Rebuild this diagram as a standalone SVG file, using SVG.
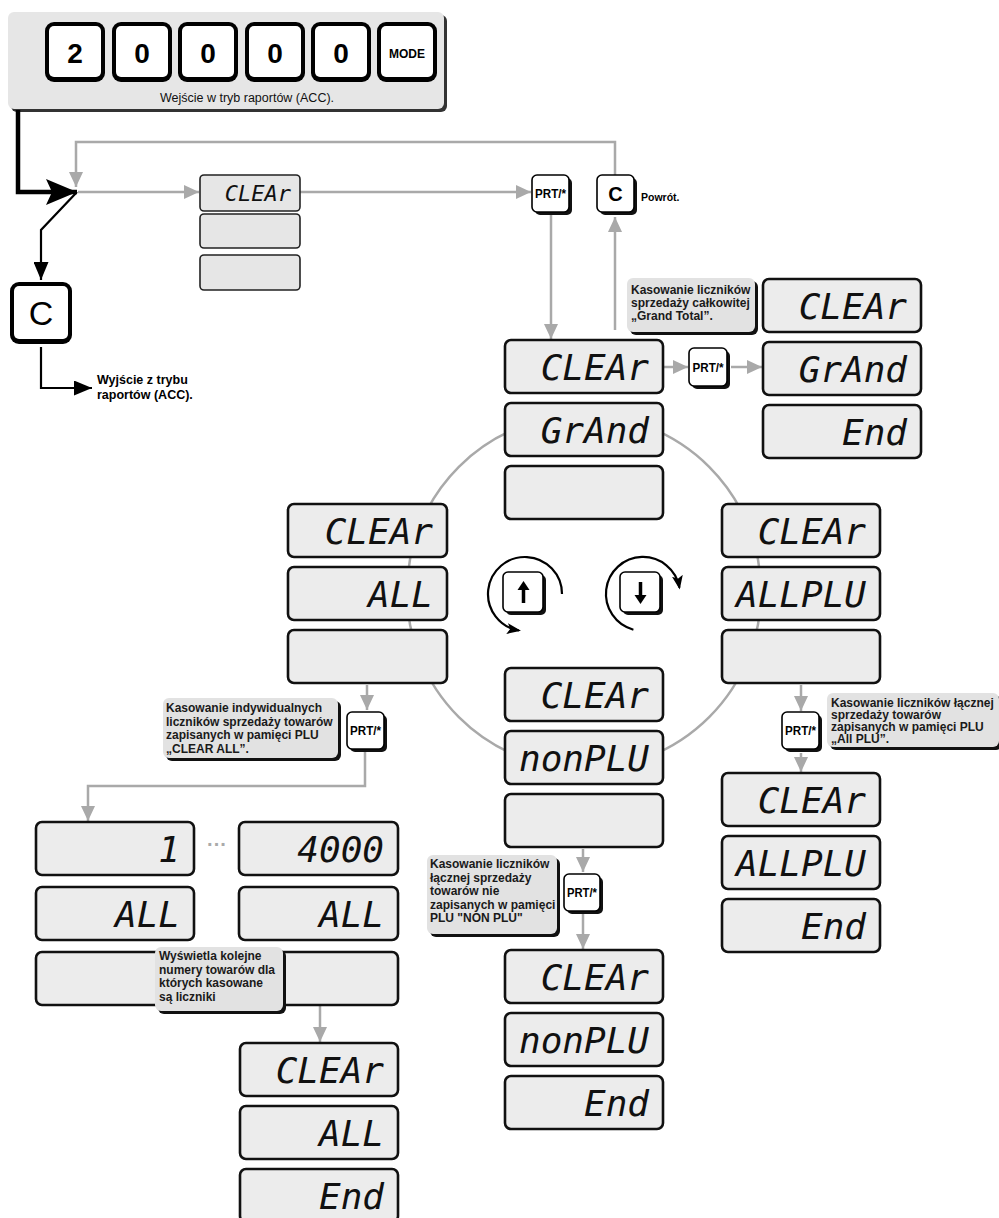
<svg xmlns="http://www.w3.org/2000/svg" width="999" height="1218" viewBox="0 0 999 1218">
<defs>
<style>
.disp{fill:#ececec;stroke:#111;stroke-width:2.6}
.sdisp{fill:#e6e6e6;stroke:#222;stroke-width:1.6}
.seg{font-family:"DejaVu Sans Mono",monospace;font-style:oblique;font-size:36px;text-anchor:end;fill:#111}
.segs{font-family:"DejaVu Sans Mono",monospace;font-style:oblique;font-size:22px;text-anchor:end;fill:#111}
.note{fill:#e2e2e2}
.shd{fill:#111}
.nt{font-family:"Liberation Sans",Arial,sans-serif;font-weight:bold;font-size:12px;fill:#1a1a1a}
.gl{stroke:#a9a9a9;stroke-width:2.5;fill:none}
.bl{stroke:#000;stroke-width:2.2;fill:none}
.kout{fill:#000}
.kin{fill:#fff}
.kt{font-family:"Liberation Sans",Arial,sans-serif;font-weight:bold;font-size:28px;text-anchor:middle;fill:#000}
.sk{fill:#fff;stroke:#000;stroke-width:1.6}
.pt{font-family:"Liberation Sans",Arial,sans-serif;font-weight:bold;font-size:12.5px;text-anchor:middle;fill:#000}
</style>
<marker id="ga" viewBox="0 0 15 14" refX="15" refY="7" markerWidth="15" markerHeight="14" markerUnits="userSpaceOnUse" orient="auto"><path d="M0,0 L15,7 L0,14 z" fill="#a9a9a9"/></marker>
<marker id="ba" viewBox="0 0 18 15" refX="18" refY="7.5" markerWidth="18" markerHeight="15" markerUnits="userSpaceOnUse" orient="auto"><path d="M0,0 L18,7.5 L0,15 z" fill="#000"/></marker>
<marker id="bigA" viewBox="0 0 31 26" refX="31" refY="13" markerWidth="31" markerHeight="26" markerUnits="userSpaceOnUse" orient="auto"><path d="M0,0 L31,13 L0,26 L6,13 z" fill="#000"/></marker>
<marker id="ra" viewBox="0 0 14 11" refX="12" refY="5.5" markerWidth="14" markerHeight="11" markerUnits="userSpaceOnUse" orient="auto"><path d="M0,0 L14,5.5 L0,11 L3,5.5 z" fill="#000"/></marker>
</defs>
<rect width="999" height="1218" fill="#fff"/>

<!-- header -->
<g id="header">
<rect x="11" y="15" width="436" height="97" rx="6" fill="#333"/>
<rect x="8" y="12" width="436" height="97" rx="6" fill="#e6e6e6"/>
<g id="key2"><rect class="kout" x="45" y="22" width="60" height="60" rx="9"/><rect class="kin" x="49" y="26" width="52" height="51" rx="5"/><text class="kt" x="75" y="63">2</text></g>
<g id="key0a"><rect class="kout" x="112" y="22" width="60" height="60" rx="9"/><rect class="kin" x="116" y="26" width="52" height="51" rx="5"/><text class="kt" x="142" y="63">0</text></g>
<g id="key0b"><rect class="kout" x="178" y="22" width="60" height="60" rx="9"/><rect class="kin" x="182" y="26" width="52" height="51" rx="5"/><text class="kt" x="208" y="63">0</text></g>
<g id="key0c"><rect class="kout" x="245" y="22" width="60" height="60" rx="9"/><rect class="kin" x="249" y="26" width="52" height="51" rx="5"/><text class="kt" x="275" y="63">0</text></g>
<g id="key0d"><rect class="kout" x="311" y="22" width="60" height="60" rx="9"/><rect class="kin" x="315" y="26" width="52" height="51" rx="5"/><text class="kt" x="341" y="63">0</text></g>
<g id="keyMode"><rect class="kout" x="377" y="22" width="60" height="60" rx="9"/><rect class="kin" x="381" y="26" width="52" height="51" rx="5"/><text class="kt" x="407" y="58" style="font-size:12px">MODE</text></g>
<text x="247" y="102" text-anchor="middle" style="font-family:'Liberation Sans',Arial,sans-serif;font-size:12.5px;fill:#111">Wejście w tryb raportów (ACC).</text>
</g>

<!-- connectors -->
<g id="connectors">
<circle class="gl" cx="584" cy="592" r="177"/>
<path d="M18,110 V192 H77" stroke="#000" stroke-width="4.5" fill="none" marker-end="url(#bigA)"/>
<path class="bl" d="M77,192 L41,230 V280" marker-end="url(#ba)"/>
<path class="bl" d="M41,347 V388 H92" marker-end="url(#ba)"/>
<path class="gl" d="M615,175 V142 H76 V187" marker-end="url(#ga)"/>
<path class="gl" d="M78,192 H199" marker-end="url(#ga)"/>
<path class="gl" d="M300,192 H531" marker-end="url(#ga)"/>
<path class="gl" d="M551,215 V339" marker-end="url(#ga)"/>
<path class="gl" d="M615,330 V217" marker-end="url(#ga)"/>
<path class="gl" d="M664,367 H688" marker-end="url(#ga)"/>
<path class="gl" d="M731,367 H762" marker-end="url(#ga)"/>
<path class="gl" d="M367,685 V710" marker-end="url(#ga)"/>
<path class="gl" d="M365,751 V786 H88 V821" marker-end="url(#ga)"/>
<path class="gl" d="M583,849 V872" marker-end="url(#ga)"/>
<path class="gl" d="M583,913 V949" marker-end="url(#ga)"/>
<path class="gl" d="M801,685 V711" marker-end="url(#ga)"/>
<path class="gl" d="M801,753 V772" marker-end="url(#ga)"/>
<path class="gl" d="M320,1006 V1042" marker-end="url(#ga)"/>
<path class="bl" d="M562,594 A37,37 0 1 0 519,630.5" stroke-width="2" marker-end="url(#ra)"/>
<path class="bl" d="M633.4,629.7 A37,37 0 1 1 679.4,587.6" stroke-width="2" marker-end="url(#ra)"/>
</g>

<!-- exit C key -->
<g id="keyCexit">
<rect class="kout" x="10" y="282" width="62" height="62" rx="9"/><rect class="kin" x="14" y="286" width="54" height="53" rx="5"/>
<text x="41" y="325" text-anchor="middle" style="font-family:'Liberation Sans',Arial,sans-serif;font-size:34px;fill:#000">C</text>
<text x="97" y="384" style="font-family:'Liberation Sans',Arial,sans-serif;font-weight:bold;font-size:12.5px;fill:#000">Wyjście z trybu</text>
<text x="97" y="399" style="font-family:'Liberation Sans',Arial,sans-serif;font-weight:bold;font-size:12.5px;fill:#000">raportów (ACC).</text>
</g>

<!-- small top display -->
<g id="topDisplay">
<rect class="sdisp" x="200" y="175" width="100" height="36" rx="4"/>
<rect class="sdisp" x="200" y="214" width="100" height="34" rx="4"/>
<rect class="sdisp" x="200" y="255" width="100" height="35" rx="4"/>
<text class="segs" x="291" y="201">CLEAr</text>
</g>

<!-- top keys -->
<g id="keyPrtTop">
<rect class="shd" x="535" y="178" width="37" height="37" rx="5"/>
<rect class="sk" x="532" y="175" width="37" height="37" rx="5"/>
<text class="pt" x="550.5" y="198" textLength="31" lengthAdjust="spacingAndGlyphs">PRT/*</text>
</g>
<g id="keyCtop">
<rect class="shd" x="600" y="178" width="37" height="37" rx="5"/>
<rect class="sk" x="597" y="175" width="37" height="37" rx="5" stroke-width="2.4"/>
<text x="615.5" y="201" text-anchor="middle" style="font-family:'Liberation Sans',Arial,sans-serif;font-weight:bold;font-size:20px;fill:#000">C</text>
<text x="641" y="201" style="font-family:'Liberation Sans',Arial,sans-serif;font-weight:bold;font-size:10.5px;fill:#000">Powrót.</text>
</g>

<!-- center upper column -->
<g id="centerUpper">
<rect class="disp" x="505" y="340" width="158" height="53" rx="6"/>
<rect class="disp" x="505" y="403" width="158" height="53" rx="6"/>
<rect class="disp" x="505" y="466" width="158" height="53" rx="6"/>
<text class="seg" x="649" y="380">CLEAr</text>
<text class="seg" x="649" y="443">GrAnd</text>
</g>

<!-- grand total -->
<g id="noteGrand">
<rect class="shd" x="630" y="281" width="128" height="54" rx="6"/>
<rect class="note" x="627" y="278" width="128" height="54" rx="6"/>
<text class="nt" x="631" y="294">Kasowanie liczników</text>
<text class="nt" x="631" y="307">sprzedaży całkowitej</text>
<text class="nt" x="631" y="320">„Grand Total”.</text>
</g>
<g id="keyPrtGrand">
<rect class="shd" x="692" y="351" width="38" height="38" rx="5"/>
<rect class="sk" x="689" y="348" width="38" height="38" rx="5"/>
<text class="pt" x="708" y="372" textLength="31" lengthAdjust="spacingAndGlyphs">PRT/*</text>
</g>
<g id="grandResult">
<rect class="disp" x="763" y="279" width="158" height="53" rx="6"/>
<rect class="disp" x="763" y="342" width="158" height="53" rx="6"/>
<rect class="disp" x="763" y="405" width="158" height="53" rx="6"/>
<text class="seg" x="907" y="319">CLEAr</text>
<text class="seg" x="907" y="382">GrAnd</text>
<text class="seg" x="907" y="445">End</text>
</g>

<!-- left column -->
<g id="leftColumn">
<rect class="disp" x="288" y="504" width="159" height="53" rx="6"/>
<rect class="disp" x="288" y="567" width="159" height="53" rx="6"/>
<rect class="disp" x="288" y="630" width="159" height="53" rx="6"/>
<text class="seg" x="433" y="544">CLEAr</text>
<text class="seg" x="433" y="607">ALL</text>
</g>

<!-- right column -->
<g id="rightColumn">
<rect class="disp" x="722" y="504" width="158" height="53" rx="6"/>
<rect class="disp" x="722" y="567" width="158" height="53" rx="6"/>
<rect class="disp" x="722" y="630" width="158" height="53" rx="6"/>
<text class="seg" x="866" y="544">CLEAr</text>
<text class="seg" x="866" y="607">ALLPLU</text>
</g>

<!-- rotation keys -->
<g id="keyUp">
<rect class="shd" x="506" y="575" width="40" height="40" rx="5"/>
<rect class="sk" x="503" y="572" width="40" height="40" rx="5" stroke-width="2"/>
<line x1="523.5" y1="603" x2="523.5" y2="588" stroke="#000" stroke-width="3.5"/>
<polygon points="517.5,590 529.5,590 523.5,581" fill="#000"/>
</g>
<g id="keyDown">
<rect class="shd" x="623" y="575" width="40" height="40" rx="5"/>
<rect class="sk" x="620" y="572" width="40" height="40" rx="5" stroke-width="2"/>
<line x1="640.5" y1="582" x2="640.5" y2="597" stroke="#000" stroke-width="3.5"/>
<polygon points="634.5,595 646.5,595 640.5,604" fill="#000"/>
</g>

<!-- center lower column -->
<g id="centerLower">
<rect class="disp" x="505" y="668" width="158" height="53" rx="6"/>
<rect class="disp" x="505" y="731" width="158" height="53" rx="6"/>
<rect class="disp" x="505" y="794" width="158" height="53" rx="6"/>
<text class="seg" x="649" y="708">CLEAr</text>
<text class="seg" x="649" y="771">nonPLU</text>
</g>

<!-- left notes and key -->
<g id="noteClearAll">
<rect class="shd" x="166" y="701" width="175" height="60" rx="6"/>
<rect class="note" x="163" y="698" width="175" height="60" rx="6"/>
<text class="nt" x="166" y="712">Kasowanie indywidualnych</text>
<text class="nt" x="166" y="725.5">liczników sprzedaży towarów</text>
<text class="nt" x="166" y="739">zapisanych w pamięci PLU</text>
<text class="nt" x="166" y="752.5">„CLEAR ALL”.</text>
</g>
<g id="keyPrtLeft">
<rect class="shd" x="350" y="715" width="37" height="37" rx="5"/>
<rect class="sk" x="347" y="712" width="37" height="37" rx="5"/>
<text class="pt" x="365.5" y="735" textLength="31" lengthAdjust="spacingAndGlyphs">PRT/*</text>
</g>

<!-- right notes and key -->
<g id="keyPrtRight">
<rect class="shd" x="785" y="715" width="37" height="37" rx="5"/>
<rect class="sk" x="782" y="712" width="37" height="37" rx="5"/>
<text class="pt" x="800.5" y="735" textLength="31" lengthAdjust="spacingAndGlyphs">PRT/*</text>
</g>
<g id="noteAllPlu">
<rect class="shd" x="830" y="696" width="172" height="54" rx="6"/>
<rect class="note" x="827" y="693" width="172" height="54" rx="6"/>
<text class="nt" x="831" y="707">Kasowanie liczników łącznej</text>
<text class="nt" x="831" y="719">sprzedaży towarów</text>
<text class="nt" x="831" y="731">zapisanych w pamięci PLU</text>
<text class="nt" x="831" y="743">„All PLU”.</text>
</g>
<g id="rightResult">
<rect class="disp" x="722" y="773" width="158" height="53" rx="6"/>
<rect class="disp" x="722" y="836" width="158" height="53" rx="6"/>
<rect class="disp" x="722" y="899" width="158" height="53" rx="6"/>
<text class="seg" x="866" y="813">CLEAr</text>
<text class="seg" x="866" y="876">ALLPLU</text>
<text class="seg" x="866" y="939">End</text>
</g>

<!-- center notes and key -->
<g id="noteNonPlu">
<rect class="shd" x="430" y="858" width="130" height="79" rx="6"/>
<rect class="note" x="427" y="855" width="130" height="79" rx="6"/>
<text class="nt" x="430" y="868">Kasowanie liczników</text>
<text class="nt" x="430" y="881.5">łącznej sprzedaży</text>
<text class="nt" x="430" y="895">towarów nie</text>
<text class="nt" x="430" y="908.5">zapisanych w pamięci</text>
<text class="nt" x="430" y="922">PLU "NON PLU"</text>
</g>
<g id="keyPrtCenter">
<rect class="shd" x="567" y="877" width="36" height="37" rx="5"/>
<rect class="sk" x="564" y="874" width="36" height="37" rx="5"/>
<text class="pt" x="582" y="897" textLength="30" lengthAdjust="spacingAndGlyphs">PRT/*</text>
</g>
<g id="centerResult">
<rect class="disp" x="505" y="950" width="158" height="53" rx="6"/>
<rect class="disp" x="505" y="1013" width="158" height="53" rx="6"/>
<rect class="disp" x="505" y="1076" width="158" height="53" rx="6"/>
<text class="seg" x="649" y="990">CLEAr</text>
<text class="seg" x="649" y="1053">nonPLU</text>
<text class="seg" x="649" y="1116">End</text>
</g>

<!-- bottom-left grid -->
<g id="gridFirst">
<rect class="disp" x="36" y="822" width="158" height="53" rx="6"/>
<rect class="disp" x="36" y="887" width="158" height="53" rx="6"/>
<rect class="disp" x="36" y="952" width="158" height="53" rx="6"/>
<text class="seg" x="180" y="862">1</text>
<text class="seg" x="180" y="927">ALL</text>
</g>
<text x="217" y="851" text-anchor="middle" style="font-family:'Liberation Sans',Arial,sans-serif;font-size:20px;fill:#aaa;font-weight:bold">···</text>
<g id="gridLast">
<rect class="disp" x="239" y="822" width="159" height="53" rx="6"/>
<rect class="disp" x="239" y="887" width="159" height="53" rx="6"/>
<rect class="disp" x="239" y="952" width="159" height="53" rx="6"/>
<text class="seg" x="384" y="862">4000</text>
<text class="seg" x="384" y="927">ALL</text>
</g>
<g id="noteNumbers">
<rect class="shd" x="158" y="950" width="128" height="64" rx="6"/>
<rect class="note" x="155" y="947" width="128" height="64" rx="6"/>
<text class="nt" x="159" y="960">Wyświetla kolejne</text>
<text class="nt" x="159" y="973.5">numery towarów dla</text>
<text class="nt" x="159" y="987">których kasowane</text>
<text class="nt" x="159" y="1000.5">są liczniki</text>
</g>
<g id="leftResult">
<rect class="disp" x="240" y="1043" width="158" height="53" rx="6"/>
<rect class="disp" x="240" y="1106" width="158" height="53" rx="6"/>
<rect class="disp" x="240" y="1169" width="158" height="53" rx="6"/>
<text class="seg" x="384" y="1083">CLEAr</text>
<text class="seg" x="384" y="1146">ALL</text>
<text class="seg" x="384" y="1209">End</text>
</g>
</svg>
